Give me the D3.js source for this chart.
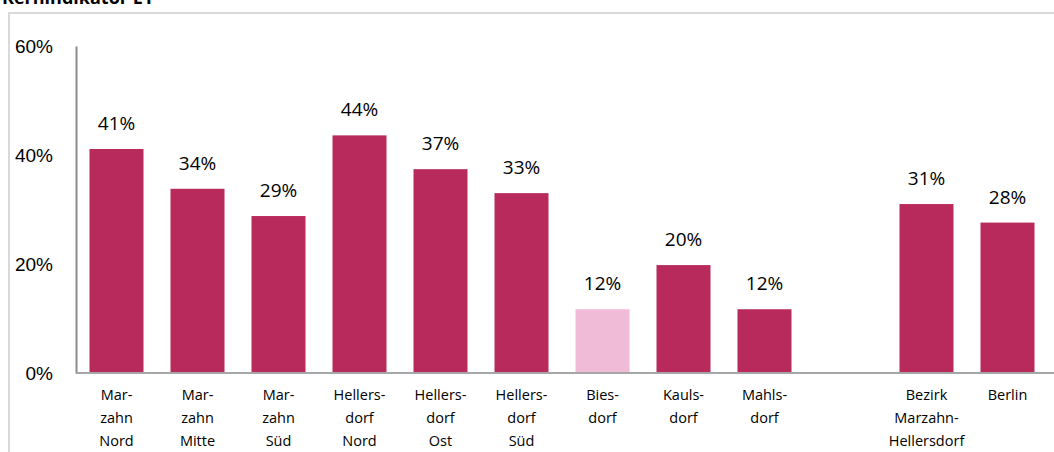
<!DOCTYPE html>
<html>
<head>
<meta charset="utf-8">
<script src="https://cdn.jsdelivr.net/npm/d3@7"></script>
<style>
  html, body { margin: 0; padding: 0; background: #fff; }
  svg { display: block; font-family: "Open Sans", sans-serif; }
</style>
</head>
<body>
<svg id="chart" width="1054" height="452"></svg>
<script>
// Kernindikator E1 – Anteil je Bezirksregion
const categories = [
  ["Mar-", "zahn", "Nord"],
  ["Mar-", "zahn", "Mitte"],
  ["Mar-", "zahn", "Süd"],
  ["Hellers-", "dorf", "Nord"],
  ["Hellers-", "dorf", "Ost"],
  ["Hellers-", "dorf", "Süd"],
  ["Bies-", "dorf"],
  ["Kauls-", "dorf"],
  ["Mahls-", "dorf"],
  [],
  ["Bezirk", "Marzahn-", "Hellersdorf"],
  ["Berlin"]
];
const values = [0.411, 0.338, 0.288, 0.436, 0.374, 0.330, 0.117, 0.198, 0.117, null, 0.310, 0.276];
const highlighted = [false, false, false, false, false, false, true, false, false, false, false, false];
const yTicks = [0, 0.2, 0.4, 0.6];
const title = "Kernindikator E1";

const svg = d3.select("#chart");
const x0 = 76, x1 = 1048, yTop = 46, yBase = 373;

const x = d3.scaleBand().domain(d3.range(categories.length)).range([x0, x1]).paddingInner(1 / 3).paddingOuter(1 / 6);
const y = d3.scaleLinear().domain([0, 0.6]).range([yBase, yTop]);
const pct = d3.format(".0%");

// panel frame
svg.append("rect").attr("x", 9).attr("y", 13).attr("width", 1060).attr("height", 460)
  .attr("fill", "none").attr("stroke", "#d9d9d9").attr("stroke-width", 2);

svg.append("text").attr("x", 2).attr("y", 4).attr("font-weight", "bold").attr("font-size", 18)
  .attr("fill", "#000").text(title);

// bars
const rows = values.map((v, i) => ({ v, i, hl: highlighted[i] })).filter(d => d.v !== null);
svg.append("g").selectAll("rect").data(rows).join("rect")
  .attr("x", d => x(d.i)).attr("width", x.bandwidth())
  .attr("y", d => y(d.v)).attr("height", d => yBase - y(d.v))
  .attr("fill", d => d.hl ? "#F0BBD6" : "#B92A5C");

// value labels
svg.append("g").selectAll("text").data(rows).join("text")
  .attr("x", d => x(d.i) + x.bandwidth() / 2).attr("y", d => y(d.v) - 19)
  .attr("text-anchor", "middle").attr("font-size", 19).attr("fill", "#000")
  .text(d => pct(d.v));

// y axis
const yAxis = svg.append("g").attr("transform", `translate(${x0},0)`)
  .call(d3.axisLeft(y).tickValues(yTicks).tickFormat(pct).tickSize(0).tickPadding(23));
yAxis.select(".domain").attr("stroke", "#8c8c8c").attr("stroke-width", 2);
yAxis.selectAll("text").attr("font-size", 19).attr("fill", "#000").attr("font-family", null);

// baseline
svg.append("line").attr("x1", x0).attr("x2", 1054).attr("y1", yBase).attr("y2", yBase)
  .attr("stroke", "#a6a6a6").attr("stroke-width", 2);

// category labels
const cat = svg.append("g").selectAll("text").data(categories.map((c, i) => ({ c, i }))).join("text")
  .attr("x", d => x(d.i) + x.bandwidth() / 2).attr("y", 400)
  .attr("text-anchor", "middle").attr("font-size", 14.5).attr("fill", "#000");
cat.selectAll("tspan").data(d => d.c.map((t, k) => ({ t, k, cx: x(d.i) + x.bandwidth() / 2 }))).join("tspan")
  .attr("x", d => d.cx).attr("dy", d => d.k === 0 ? 0 : 23).text(d => d.t);
</script>
</body>
</html>
